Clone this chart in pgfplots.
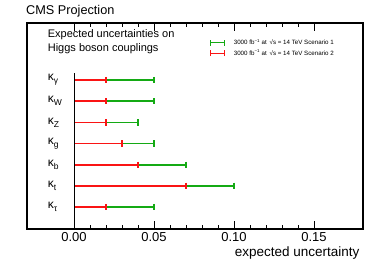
\documentclass[border=0pt]{standalone}
\usepackage{fontspec}
\setmainfont{Liberation Sans}
\usepackage{pgfplots}
\pgfplotsset{compat=1.18}
\definecolor{cgreen}{RGB}{20,170,20}
\definecolor{cred}{RGB}{250,20,20}
\newcommand{\kap}[1]{κ\raisebox{-3pt}{\fontsize{8.5}{9}\selectfont #1}}
\pgfplotsset{
  hbar/.style={color=#1, line width=1.6pt, mark=|, mark size=3.2pt, mark indices={2},
    mark options={line width=1.2pt},
    legend image code/.code={
      \draw[#1, line width=1.4pt] (0pt,0pt) -- (14pt,0pt);
      \draw[#1, line width=1.1pt] (0pt,-3pt) -- (0pt,3pt);
      \draw[#1, line width=1.1pt] (14pt,-3pt) -- (14pt,3pt);
    }},
}
\begin{document}
\begin{tikzpicture}
\begin{axis}[
  scale only axis,
  width=336pt, height=206pt,
  xmin=-0.0294, xmax=0.1806,
  ymin=-0.04, ymax=9.7,
  ytick=\empty,
  xtick={0,0.05,0.1,0.15},
  xticklabels={0.00,0.05,0.10,0.15},
  minor x tick num=4,
  tick align=inside,
  xtick pos=both,
  major tick length=8pt,
  minor tick length=4pt,
  axis line style={line width=1.2pt},
  every tick/.style={black, line width=0.6pt},
  tick label style={font=\fontsize{13}{14}\selectfont},
  /pgf/number format/assume math mode=true,
  xlabel={expected uncertainty},
  xlabel style={font=\fontsize{13.5}{14}\selectfont, at={(axis description cs:1,0)}, anchor=north east, yshift=-14pt},
  legend style={draw=none, fill=none, at={(axis cs:0.0845,8.95)}, anchor=north west,
    font=\fontsize{6.2}{7}\selectfont, row sep=3.5pt, column sep=9pt, inner sep=0pt,
    nodes={inner sep=0pt}},
  legend cell align=left,
  clip=false,
]
% Scenario 1 (green)
\addplot[hbar=cgreen] coordinates {(0,7) (0.05,7)};
\addlegendentry{3000 fb\textsuperscript{−1} at \,√s = 14 TeV Scenario 1}
\addplot[hbar=cgreen, forget plot] coordinates {(0,6) (0.05,6)};
\addplot[hbar=cgreen, forget plot] coordinates {(0,5) (0.04,5)};
\addplot[hbar=cgreen, forget plot] coordinates {(0,4) (0.05,4)};
\addplot[hbar=cgreen, forget plot] coordinates {(0,3) (0.07,3)};
\addplot[hbar=cgreen, forget plot] coordinates {(0,2) (0.10,2)};
\addplot[hbar=cgreen, forget plot] coordinates {(0,1) (0.05,1)};
% Scenario 2 (red)
\addplot[hbar=cred] coordinates {(0,7) (0.02,7)};
\addlegendentry{3000 fb\textsuperscript{−1} at \,√s = 14 TeV Scenario 2}
\addplot[hbar=cred, forget plot] coordinates {(0,6) (0.02,6)};
\addplot[hbar=cred, forget plot] coordinates {(0,5) (0.02,5)};
\addplot[hbar=cred, forget plot] coordinates {(0,4) (0.03,4)};
\addplot[hbar=cred, forget plot] coordinates {(0,3) (0.04,3)};
\addplot[hbar=cred, forget plot] coordinates {(0,2) (0.07,2)};
\addplot[hbar=cred, forget plot] coordinates {(0,1) (0.02,1)};
% vertical zero line
\addplot[black, line width=0.9pt, forget plot] coordinates {(0,-0.04) (0,7.33)};
\node[anchor=west, font=\fontsize{12}{12}\selectfont] at (axis cs:-0.0185,7) {\kap{γ}};
\node[anchor=west, font=\fontsize{12}{12}\selectfont] at (axis cs:-0.0185,6) {\kap{W}};
\node[anchor=west, font=\fontsize{12}{12}\selectfont] at (axis cs:-0.0185,5) {\kap{Z}};
\node[anchor=west, font=\fontsize{12}{12}\selectfont] at (axis cs:-0.0185,4) {\kap{g}};
\node[anchor=west, font=\fontsize{12}{12}\selectfont] at (axis cs:-0.0185,3) {\kap{b}};
\node[anchor=west, font=\fontsize{12}{12}\selectfont] at (axis cs:-0.0185,2) {\kap{t}};
\node[anchor=west, font=\fontsize{12}{12}\selectfont] at (axis cs:-0.0185,1) {\kap{τ}};
\node[anchor=north west, align=left, font=\fontsize{11}{14}\selectfont, inner sep=0pt] at (axis cs:-0.0165,9.42) {Expected uncertainties on\\Higgs boson couplings};
\end{axis}
\node[anchor=south west, font=\fontsize{12.7}{13}\selectfont, inner sep=0pt] at ([xshift=-1pt,yshift=6pt]current axis.north west) {CMS Projection};
\path ([xshift=-27pt,yshift=-45pt]current axis.south west) rectangle ([xshift=19pt,yshift=23pt]current axis.north east);
\end{tikzpicture}
\end{document}
